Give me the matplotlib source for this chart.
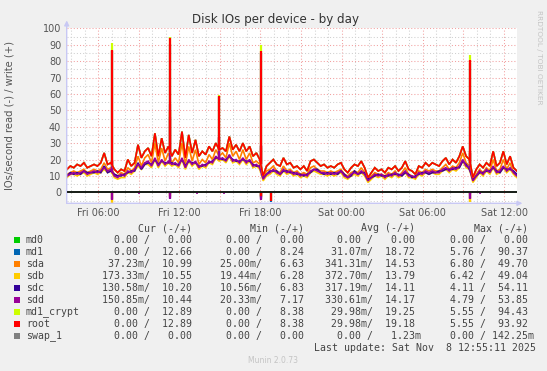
import numpy as np
import matplotlib
matplotlib.use("Agg")
import matplotlib.pyplot as plt
from matplotlib.patches import Rectangle

# ---------------- data ----------------
t_start = 3.70          # hours since Fri 00:00
t_step = 0.25           # hours between samples

root_w = [14,16,15,17,16,18,15,16,17,16,18,24,17,18,14,12,14,13,20,16,
          18,29,21,25,27,22,36,22,33,24,28,22,26,23,37,21,35,24,32,22,
          25,23,28,25,30,26,27,25,34,26,29,25,30,25,28,22,24,20,10,16,
          18,20,17,16,21,17,18,15,16,14,16,13,19,20,18,16,17,15,16,15,
          17,18,14,12,15,17,16,19,15,9,12,15,13,14,12,15,14,16,13,15,
          19,14,13,11,16,15,18,16,18,17,16,19,21,17,20,18,22,28,22,20,
          9,14,17,15,18,16,25,16,18,25,17,22,15,13]
md1_w = root_w
md1_crypt_w = root_w
sdd_w = [10,11,12,11,12,13,11,12,13,12,13,15,13,14,10,9,11,10,13,12,
         14,17,15,18,19,16,21,16,20,17,19,17,18,16,21,15,20,17,19,15,
         17,16,19,18,22,20,21,19,23,19,20,18,21,18,20,16,17,15,8,11,
         12,14,12,11,14,12,13,11,12,10,11,10,13,14,13,12,12,11,12,11,
         12,13,10,9,11,12,11,13,11,7,9,11,10,11,9,11,10,12,10,11,
         13,10,10,9,12,11,13,12,13,12,12,14,15,13,15,14,16,20,16,15,
         7,10,13,11,14,12,16,12,13,16,13,15,12,10]
sdc_w = [10,12,11,12,11,13,12,12,12,13,12,16,12,13,11,10,10,11,12,13,
         13,18,14,17,18,17,20,17,19,18,18,18,17,17,20,16,19,18,18,16,
         16,17,18,19,21,21,20,20,22,20,19,19,20,19,19,17,16,16,9,11,
         13,13,13,11,13,13,12,12,11,11,10,11,12,14,14,12,11,12,11,12,
         11,13,11,9,10,13,11,12,12,8,9,10,11,10,10,10,11,11,11,10,
         12,11,9,10,11,12,12,11,12,12,13,13,14,14,14,15,15,19,17,14,
         8,10,12,12,13,13,15,13,12,15,14,14,13,11]
sda_w = [11,12,13,12,13,14,12,13,14,13,14,18,14,15,11,10,12,11,15,13,
         15,22,16,21,23,18,30,18,27,19,24,18,21,18,30,17,28,19,26,17,
         20,18,23,20,26,22,24,21,30,22,25,20,26,20,24,18,19,17,9,13,
         14,16,13,12,16,13,14,12,13,11,12,11,15,16,14,13,13,12,13,12,
         13,14,11,10,12,13,12,15,12,8,10,12,11,11,10,12,11,13,10,12,
         15,11,10,9,13,12,14,13,14,13,13,15,17,14,16,15,18,24,18,16,
         8,11,14,12,15,13,20,13,14,20,14,18,12,11]
sdb_w = [9,11,11,10,11,12,10,11,12,11,12,14,12,13,9,8,9,9,12,11,
         13,16,14,17,17,15,20,15,19,16,18,16,17,15,20,14,19,16,18,14,
         16,15,18,17,21,19,20,18,22,18,19,17,20,17,19,15,16,14,7,10,
         11,13,11,10,13,11,12,10,11,9,10,9,12,13,12,11,11,10,11,10,
         11,12,9,8,10,11,10,12,10,6,8,10,9,10,8,10,9,11,9,10,
         12,9,9,8,11,10,12,11,12,11,11,13,14,12,14,13,15,19,15,14,
         6,9,12,10,13,11,15,11,12,15,12,14,11,9]
zero_w = [0] * 134

# narrow write spikes (single samples)
spike_t = [7.05, 11.35, 14.95, 18.02, 33.50]
spk = {
    "md1":       [86, 90.4, 58, 85, 79],
    "sda":       [20, 49.7, 33, 28, 25],
    "sdb":       [19, 49.0, 32, 27, 24],
    "sdc":       [19, 54.1, 34, 28, 24],
    "sdd":       [20, 46.0, 34, 29, 25],
    "md1_crypt": [91, 94.4, 59.5, 90, 84],
    "root":      [87, 93.9, 59, 86, 80.5],
}
# read spikes (drawn negative)
read_t = [7.05, 11.35, 18.02, 18.75, 33.50]
rd = {
    "md1":       [0.5, 1.0, 3.0, 5.76, 1.0],
    "sda":       [6.8, 3.0, 3.5, 0.3, 5.0],
    "sdb":       [6.42, 2.5, 3.0, 0.3, 5.8],
    "sdc":       [4.11, 3.5, 3.8, 0.2, 3.5],
    "sdd":       [4.79, 4.0, 4.5, 0.2, 3.8],
    "md1_crypt": [0.3, 0.5, 2.0, 5.55, 0.5],
    "root":      [0.3, 0.5, 2.0, 5.55, 0.5],
}
blip_t = [9.0, 10.5, 12.6, 13.3, 14.1, 15.3, 16.0, 22.0, 27.9, 32.0, 34.2, 35.6]
blip_v = [0.8, 0.6, 0.7, 0.9, 0.6, 0.8, 0.6, 0.5, 0.6, 0.7, 0.8, 0.6]

names = ["md0", "md1", "sda", "sdb", "sdc", "sdd", "md1_crypt", "root", "swap_1"]
colors = ["#00cc00", "#0066b3", "#ff8000", "#ffcc00", "#330099", "#990099",
          "#ccff00", "#ff0000", "#808080"]
series = {"md0": zero_w, "md1": md1_w, "sda": sda_w, "sdb": sdb_w, "sdc": sdc_w,
          "sdd": sdd_w, "md1_crypt": md1_crypt_w, "root": root_w, "swap_1": zero_w}

cur_r = [0, 0, 0.03723, 0.17333, 0.13058, 0.15085, 0, 0, 0]
cur_w = [0, 12.66, 10.99, 10.55, 10.20, 10.44, 12.89, 12.89, 0]
min_r = [0, 0, 0.025, 0.01944, 0.01056, 0.02033, 0, 0, 0]
min_w = [0, 8.24, 6.63, 6.28, 6.83, 7.17, 8.38, 8.38, 0]
avg_r = [0, 0.03107, 0.34131, 0.37270, 0.31719, 0.33061, 0.02998, 0.02998, 0]
avg_w = [0, 18.72, 14.53, 13.79, 14.11, 14.17, 19.25, 19.18, 0.00123]
max_r = [0, 5.76, 6.80, 6.42, 4.11, 4.79, 5.55, 5.55, 0]
max_w = [0, 90.37, 49.70, 49.04, 54.11, 53.85, 94.43, 93.92, 0.14225]

xtick_pos = [6, 12, 18, 24, 30, 36]
xtick_lab = ["Fri 06:00", "Fri 12:00", "Fri 18:00", "Sat 00:00", "Sat 06:00", "Sat 12:00"]

# ---------------- figure ----------------
W, H = 547, 371
fig = plt.figure(figsize=(W / 100, H / 100), dpi=100, facecolor="#f0f0f0")
fx = lambda px: px / W
fy = lambda py: 1 - py / H

L, R, T, B = 66.7, 517.0, 28.3, 203.3
ax = fig.add_axes([fx(L), fy(B), fx(R - L), fy(T) - fy(B)])
ax.set_facecolor("white")
ax.set_xlim(3.68, 36.96)
ax.set_ylim(-6.7, 100)
for s in ax.spines.values():
    s.set_visible(False)

dot = (0, (1, 2))
for h in range(4, 37):
    major = (h % 3 == 0)
    ax.axvline(h, color="#f2a0a0" if major else "#d0d0d0", lw=0.75,
               linestyle=dot, zorder=0)
for v in range(-5, 101, 5):
    major = (v % 10 == 0)
    ax.axhline(v, color="#f2a0a0" if major else "#d0d0d0", lw=0.75,
               linestyle=dot, zorder=0)

t = t_start + t_step * np.arange(len(root_w))

for i, (n, c) in enumerate(zip(names, colors)):
    y = np.asarray(series[n], dtype=float)
    ax.plot(t, y, color=c, lw=1.2, zorder=2 + i * 0.1, solid_joinstyle="miter")
    if n in spk:
        base = np.interp(spike_t, t, y)
        ax.vlines(spike_t, base, spk[n], colors=c, lw=1.6, zorder=2 + i * 0.1)
    if n in rd:
        ax.vlines(read_t, 0, -np.asarray(rd[n]), colors=c, lw=1.6, zorder=2 + i * 0.1)
ax.vlines(blip_t, 0, -np.asarray(blip_v), colors="#990099", lw=1.2, zorder=2.6)
ax.axhline(0, color="black", lw=1.1, zorder=3.5)

ax.set_yticks(range(0, 101, 10))
ax.set_xticks(xtick_pos)
ax.set_xticklabels(xtick_lab)
ax.tick_params(axis="both", length=0, labelsize=7, labelcolor="#555555")
ax.tick_params(axis="y", pad=4)
ax.tick_params(axis="x", pad=3.5)

axis_col = "#c8c8f4"
ax.annotate("", xy=(0, 1.045), xytext=(0, -0.0), xycoords="axes fraction",
            arrowprops=dict(arrowstyle="-|>", color=axis_col, lw=1.0,
                            mutation_scale=7, shrinkA=0, shrinkB=0))
ax.annotate("", xy=(1.012, 0), xytext=(0, 0), xycoords="axes fraction",
            arrowprops=dict(arrowstyle="-|>", color=axis_col, lw=1.0,
                            mutation_scale=7, shrinkA=0, shrinkB=0))

fig.text(fx(276), fy(19.5), "Disk IOs per device - by day", ha="center",
         va="center", fontsize=8.6, color="#333333")
fig.text(fx(10), fy(116), "IOs/second read (-) / write (+)", rotation=90,
         ha="center", va="center", fontsize=7.2, color="#555555")
fig.text(fx(539), fy(57), "RRDTOOL / TOBI OETIKER", rotation=270,
         ha="center", va="center", fontsize=5.3, color="#c4c4c4")
fig.text(fx(273), fy(360.5), "Munin 2.0.73", ha="center", va="center",
         fontsize=5.5, color="#c4c4c4")

# ---------------- legend ----------------
mono = "DejaVu Sans Mono"
fs = 7.1
cw = 5.94
tc = "#444444"


def si(v):
    if v == 0:
        return "  0.00 "
    if abs(v) < 1:
        return f"{v * 1000:6.2f}m"
    return f"{v:6.2f} "


field_end = [197.5, 309.5, 420.3, 533.3]
headers = ["Cur (-/+)", "Min (-/+)", "Avg (-/+)", "Max (-/+)"]
for fe, hd in zip(field_end, headers):
    fig.text(fx(fe - 10 * cw), fy(228.3), hd, ha="left", va="center",
             family=mono, fontsize=fs, color=tc)

cols = [(cur_r, cur_w), (min_r, min_w), (avg_r, avg_w), (max_r, max_w)]
for k, (n, c) in enumerate(zip(names, colors)):
    yy = 239.7 + 12.0 * k
    fig.patches.append(Rectangle((fx(14), fy(yy + 2.8)), fx(5.6), fy(yy - 2.8) - fy(yy + 2.8),
                                 transform=fig.transFigure, facecolor=c, edgecolor="none"))
    fig.text(fx(26), fy(yy), n, ha="left", va="center", family=mono,
             fontsize=fs, color=tc)
    for fe, (rr, ww) in zip(field_end, cols):
        s = si(rr[k]) + "/ " + si(ww[k])
        fig.text(fx(fe - 16 * cw), fy(yy), s, ha="left", va="center",
                 family=mono, fontsize=fs, color=tc)

fig.text(fx(533.3 - 37 * cw), fy(347.7), "Last update: Sat Nov  8 12:55:11 2025",
         ha="left", va="center", family=mono, fontsize=fs, color=tc)

fig.savefig("out.png", dpi=100, facecolor=fig.get_facecolor())
